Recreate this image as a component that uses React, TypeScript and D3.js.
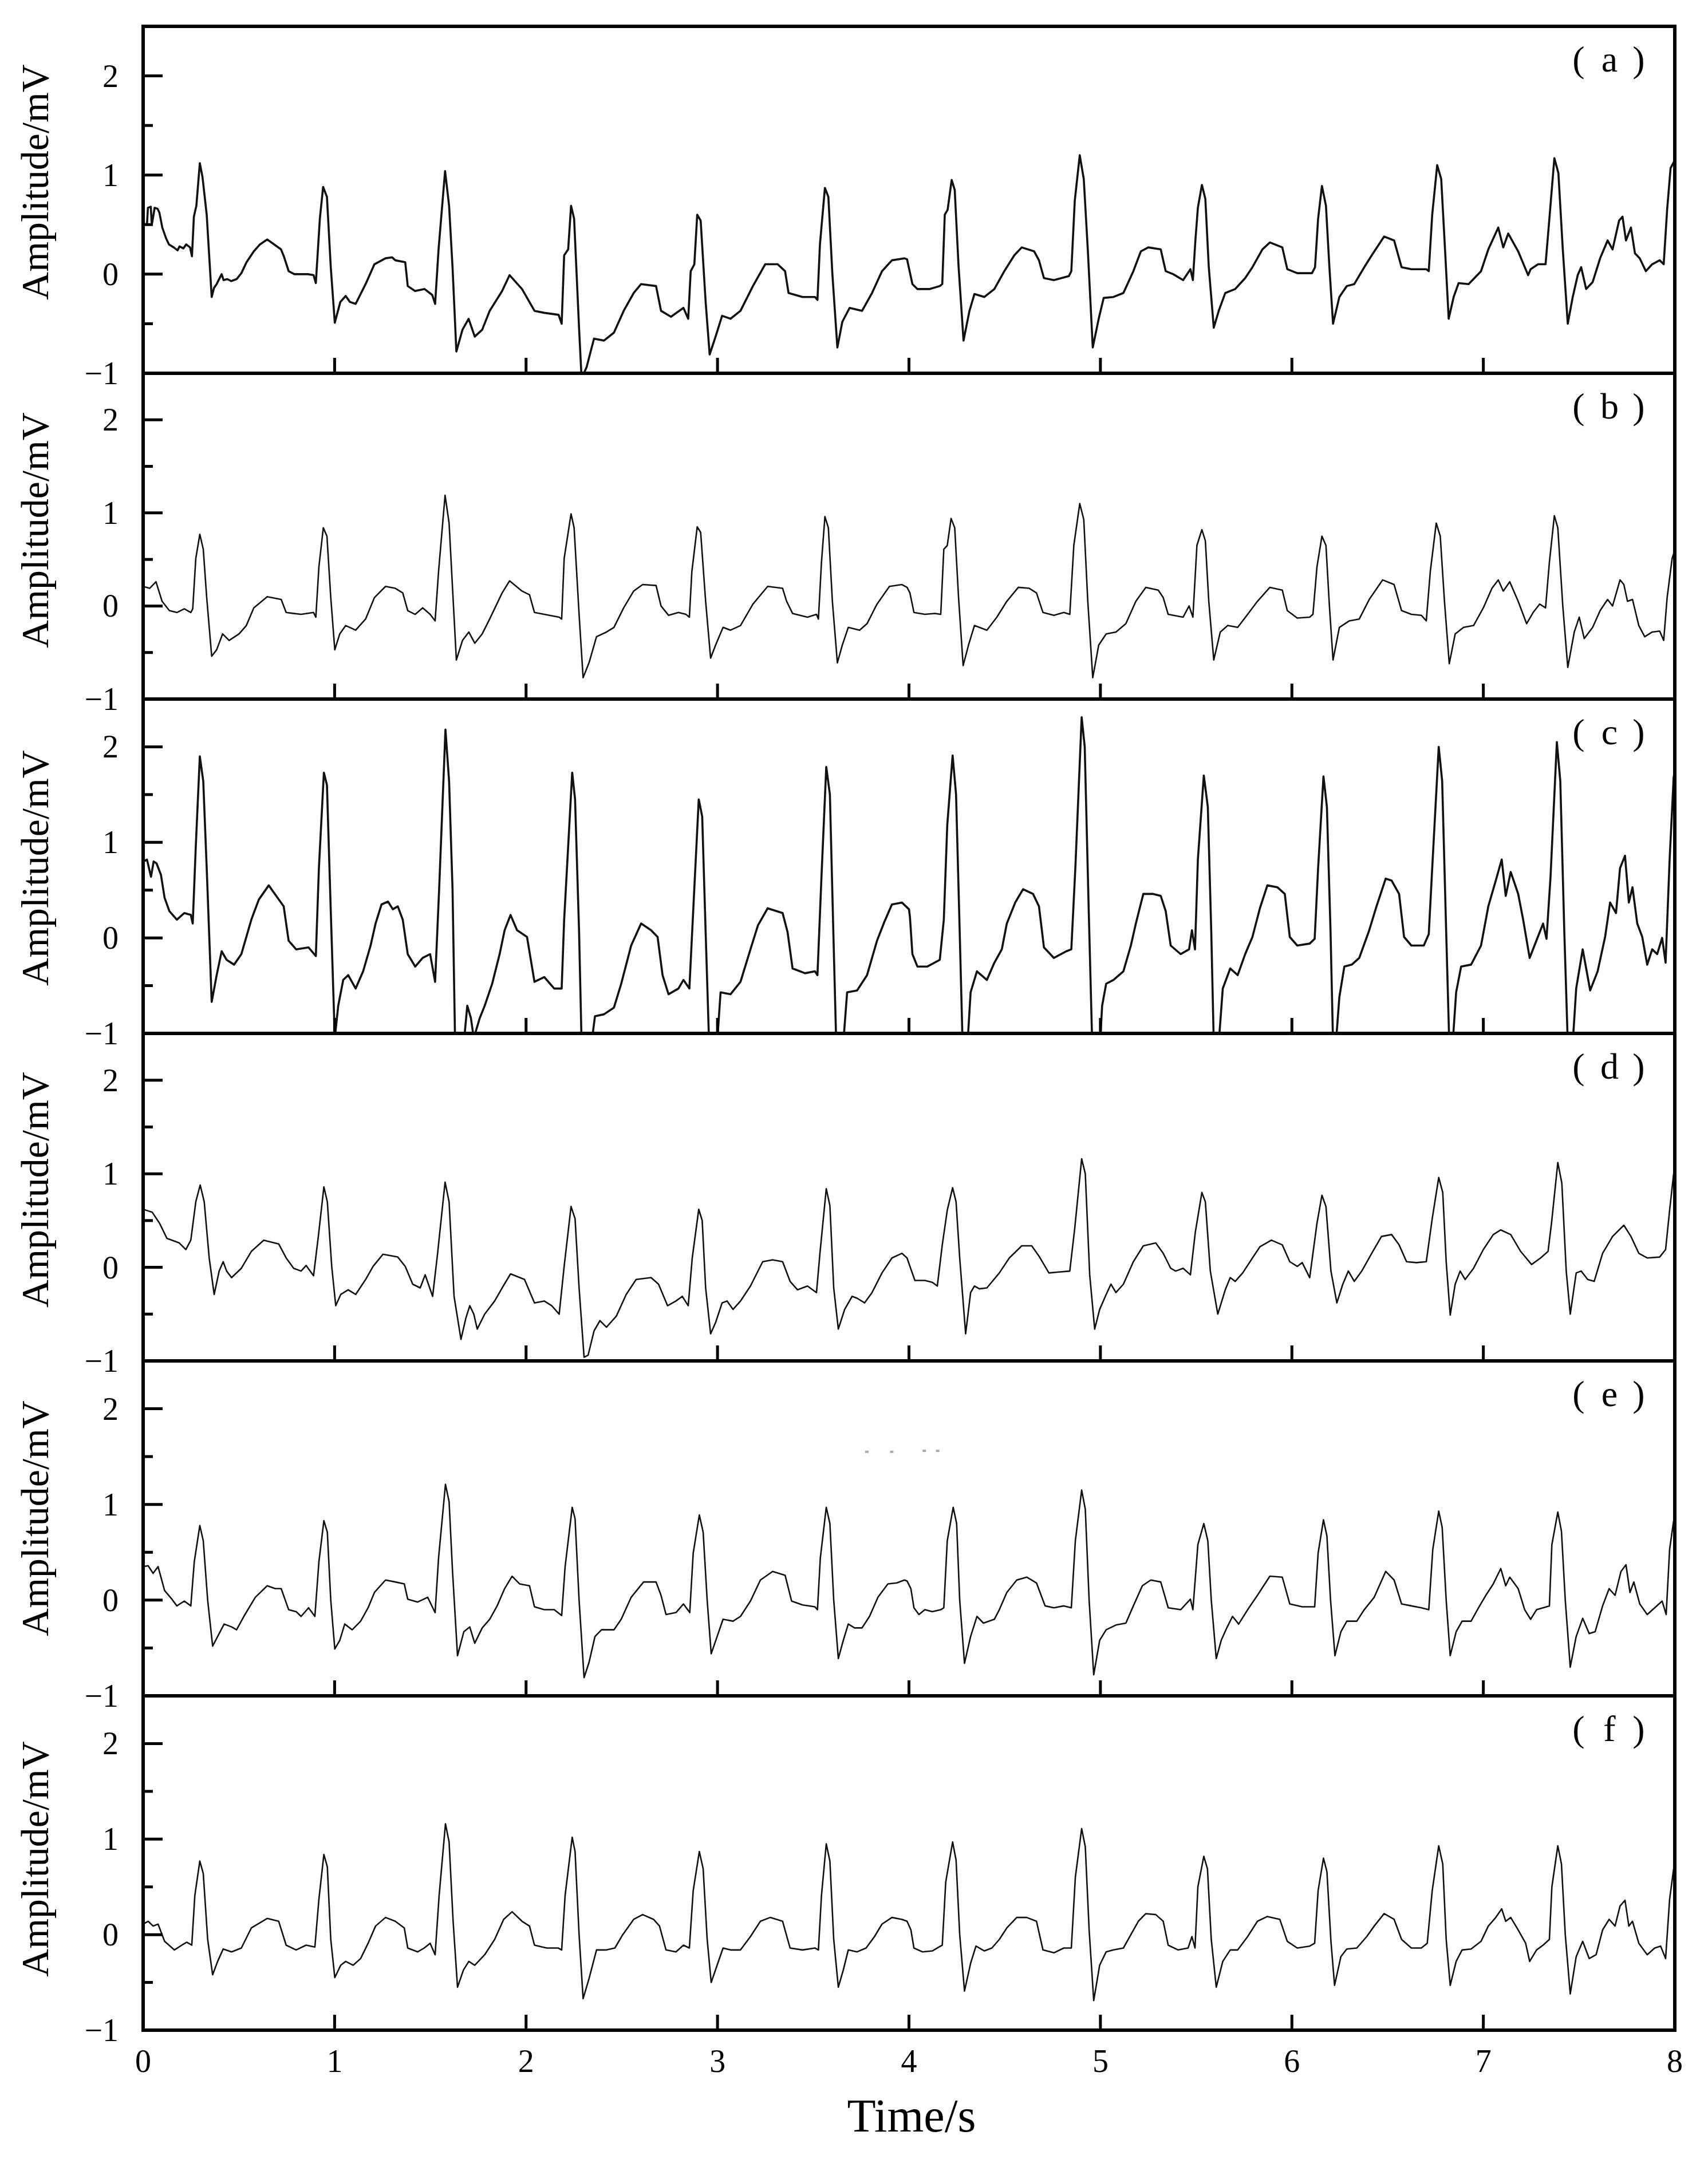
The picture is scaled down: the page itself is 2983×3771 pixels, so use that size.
import React from 'react';
import * as d3 from 'd3';

type Pt = [number, number];

// ---------- data (time in s, amplitude in mV) ----------
const panelIds = ['a', 'b', 'c', 'd', 'e', 'f'];
const xTickValues = [0, 1, 2, 3, 4, 5, 6, 7, 8];
const yMajorValues = [2, 1, 0, -1];
const yMinorValues = [1.5, 0.5, -0.5];

const ecgA: Pt[] = [
  [0,0.62],[0.005,0.5],[0.02,0.5],[0.025,0.67],[0.04,0.68],[0.045,0.5],[0.05,0.55],[0.06,0.67],[0.075,0.66],[0.085,0.62],[0.10,0.47],[0.12,0.36],[0.135,0.3],[0.16,0.27],[0.18,0.24],[0.19,0.28],[0.21,0.26],[0.225,0.3],[0.245,0.27],[0.255,0.18],[0.265,0.58],[0.278,0.69],[0.296,1.12],[0.31,0.98],[0.332,0.6],[0.358,-0.23],[0.37,-0.14],[0.384,-0.1],[0.41,0.0],[0.42,-0.06],[0.44,-0.05],[0.46,-0.07],[0.488,-0.05],[0.513,0.01],[0.54,0.12],[0.578,0.23],[0.61,0.3],[0.648,0.35],[0.67,0.32],[0.72,0.25],[0.735,0.18],[0.76,0.03],[0.79,0.0],[0.825,0.0],[0.86,0.0],[0.89,-0.01],[0.902,-0.09],[0.923,0.56],[0.94,0.88],[0.96,0.78],[0.98,0.07],[1.001,-0.49],[1.03,-0.28],[1.058,-0.22],[1.08,-0.28],[1.11,-0.3],[1.162,-0.1],[1.208,0.1],[1.266,0.16],[1.30,0.17],[1.317,0.14],[1.369,0.12],[1.382,-0.12],[1.42,-0.17],[1.47,-0.15],[1.51,-0.21],[1.525,-0.3],[1.543,0.25],[1.577,1.04],[1.598,0.69],[1.616,0.07],[1.636,-0.78],[1.668,-0.56],[1.70,-0.45],[1.732,-0.63],[1.771,-0.56],[1.81,-0.37],[1.875,-0.17],[1.914,-0.01],[1.979,-0.15],[2.044,-0.37],[2.095,-0.39],[2.17,-0.41],[2.186,-0.5],[2.199,0.19],[2.22,0.25],[2.235,0.69],[2.251,0.56],[2.277,-0.55],[2.29,-1.05],[2.316,-0.94],[2.355,-0.65],[2.407,-0.67],[2.459,-0.59],[2.51,-0.37],[2.562,-0.19],[2.601,-0.1],[2.679,-0.12],[2.705,-0.37],[2.757,-0.43],[2.822,-0.34],[2.847,-0.45],[2.86,0.03],[2.879,0.1],[2.894,0.6],[2.912,0.54],[2.938,-0.28],[2.959,-0.81],[2.99,-0.63],[3.024,-0.42],[3.068,-0.45],[3.12,-0.37],[3.185,-0.12],[3.249,0.1],[3.314,0.1],[3.353,0.03],[3.371,-0.19],[3.444,-0.23],[3.509,-0.23],[3.522,-0.26],[3.535,0.3],[3.561,0.87],[3.579,0.78],[3.60,0.0],[3.626,-0.74],[3.652,-0.48],[3.69,-0.34],[3.755,-0.37],[3.807,-0.19],[3.859,0.03],[3.911,0.14],[3.976,0.16],
  [3.99,0.15],[4.018,-0.1],[4.044,-0.15],[4.109,-0.15],[4.161,-0.12],[4.174,-0.1],[4.187,0.6],[4.202,0.65],[4.223,0.95],[4.239,0.85],[4.259,0.08],[4.285,-0.67],[4.316,-0.37],[4.342,-0.2],[4.394,-0.23],[4.446,-0.15],[4.498,0.03],[4.55,0.19],[4.589,0.27],[4.654,0.23],[4.679,0.14],[4.705,-0.04],[4.757,-0.06],[4.835,-0.02],[4.848,0.03],[4.866,0.74],[4.892,1.20],[4.913,0.96],[4.934,0.25],[4.96,-0.74],[4.991,-0.45],[5.017,-0.24],[5.068,-0.23],[5.12,-0.19],[5.172,0.03],[5.211,0.23],[5.25,0.27],[5.315,0.25],[5.341,0.03],[5.38,0.0],[5.432,-0.06],[5.47,0.05],[5.483,-0.06],[5.496,0.34],[5.509,0.67],[5.53,0.9],[5.548,0.76],[5.566,0.07],[5.592,-0.54],[5.618,-0.37],[5.652,-0.19],[5.704,-0.15],[5.756,-0.04],[5.794,0.07],[5.846,0.25],[5.885,0.32],[5.95,0.27],[5.976,0.05],[6.028,0.01],[6.105,0.01],[6.121,0.07],[6.137,0.56],[6.157,0.89],[6.178,0.69],[6.196,0.07],[6.215,-0.5],[6.248,-0.23],[6.287,-0.12],[6.326,-0.1],[6.378,0.07],[6.417,0.19],[6.482,0.38],[6.534,0.34],[6.573,0.07],[6.624,0.05],[6.702,0.05],[6.715,0.03],[6.733,0.6],[6.759,1.10],[6.78,0.96],[6.801,0.21],[6.819,-0.45],[6.845,-0.23],[6.871,-0.09],[6.923,-0.1],[6.988,0.03],[7.026,0.25],[7.078,0.47],[7.104,0.27],[7.13,0.41],[7.182,0.23],[7.234,-0.01],[7.247,0.05],[7.286,0.1],[7.325,0.1],[7.345,0.56],[7.371,1.17],[7.392,1.02],[7.415,0.25],[7.441,-0.5],[7.467,-0.23],[7.493,-0.01],[7.511,0.07],[7.537,-0.15],[7.571,-0.08],[7.61,0.16],[7.649,0.34],[7.675,0.25],[7.709,0.54],[7.727,0.58],[7.745,0.34],[7.771,0.47],[7.792,0.21],[7.817,0.16],[7.849,0.03],[7.882,0.10],[7.921,0.14],[7.942,0.10],[7.96,0.65],[7.978,1.07],[8.0,1.15],
];

const ecgB: Pt[] = [
  [0,0.21],[0.034,0.19],[0.067,0.26],[0.099,0.05],[0.137,-0.05],[0.176,-0.07],[0.215,-0.03],[0.249,-0.07],[0.259,-0.03],[0.275,0.51],[0.296,0.77],[0.314,0.61],[0.332,0.09],[0.358,-0.54],[0.384,-0.47],[0.415,-0.3],[0.449,-0.37],[0.501,-0.3],[0.539,-0.21],[0.578,-0.02],[0.648,0.1],[0.721,0.07],[0.747,-0.07],[0.825,-0.09],[0.89,-0.07],[0.902,-0.12],[0.918,0.42],[0.941,0.84],[0.96,0.75],[0.98,0.09],[1.001,-0.47],[1.027,-0.3],[1.058,-0.21],[1.11,-0.26],[1.162,-0.14],[1.208,0.09],[1.266,0.21],[1.317,0.19],[1.356,0.14],[1.382,-0.05],[1.421,-0.09],[1.460,-0.02],[1.499,-0.09],[1.525,-0.16],[1.543,0.37],[1.577,1.19],[1.598,0.89],[1.616,0.19],[1.636,-0.58],[1.668,-0.37],[1.701,-0.28],[1.732,-0.4],[1.771,-0.3],[1.81,-0.14],[1.875,0.14],[1.914,0.27],[1.979,0.16],[2.018,0.12],[2.044,-0.07],[2.095,-0.09],[2.173,-0.12],[2.186,-0.14],[2.199,0.51],[2.235,0.99],[2.251,0.84],[2.277,-0.09],[2.298,-0.77],[2.329,-0.61],[2.368,-0.33],[2.42,-0.28],[2.459,-0.23],[2.51,-0.02],[2.562,0.16],[2.609,0.23],[2.679,0.22],[2.705,0.0],[2.744,-0.1],[2.796,-0.07],[2.835,-0.09],[2.853,-0.12],[2.866,0.37],[2.894,0.85],[2.912,0.79],[2.938,0.05],[2.964,-0.56],[2.99,-0.42],[3.029,-0.23],[3.068,-0.26],[3.12,-0.21],[3.185,0.02],[3.262,0.21],[3.34,0.19],[3.361,0.05],[3.392,-0.08],[3.47,-0.12],[3.517,-0.09],[3.527,-0.14],[3.543,0.47],[3.561,0.96],[3.579,0.84],[3.60,0.05],[3.626,-0.61],[3.652,-0.42],[3.683,-0.23],[3.742,-0.26],[3.781,-0.19],[3.833,0.02],[3.898,0.21],[3.963,0.23],
  [3.99,0.2],[4.005,0.14],[4.026,-0.07],[4.083,-0.09],[4.135,-0.08],[4.166,-0.09],[4.182,0.61],[4.2,0.65],[4.22,0.94],[4.239,0.84],[4.259,0.09],[4.283,-0.64],[4.311,-0.42],[4.342,-0.21],[4.407,-0.26],[4.459,-0.12],[4.511,0.05],[4.571,0.2],[4.628,0.19],[4.666,0.14],[4.70,-0.07],[4.757,-0.1],[4.809,-0.07],[4.84,-0.09],[4.861,0.65],[4.892,1.10],[4.913,0.93],[4.934,0.05],[4.96,-0.77],[4.991,-0.42],[5.03,-0.3],[5.081,-0.28],[5.133,-0.19],[5.185,0.05],[5.237,0.2],[5.302,0.17],[5.328,0.09],[5.354,-0.09],[5.432,-0.12],[5.463,0.0],[5.483,-0.12],[5.504,0.65],[5.53,0.82],[5.548,0.7],[5.566,0.05],[5.592,-0.58],[5.626,-0.28],[5.665,-0.21],[5.717,-0.23],[5.769,-0.09],[5.82,0.05],[5.885,0.2],[5.95,0.17],[5.976,-0.05],[6.028,-0.13],[6.093,-0.12],[6.11,-0.09],[6.131,0.42],[6.157,0.75],[6.178,0.65],[6.196,0.0],[6.215,-0.58],[6.248,-0.23],[6.3,-0.16],[6.352,-0.14],[6.404,0.07],[6.474,0.28],[6.534,0.23],[6.573,-0.05],[6.624,-0.09],[6.676,-0.1],[6.702,-0.16],[6.723,0.37],[6.754,0.89],[6.775,0.75],[6.797,0.05],[6.822,-0.62],[6.853,-0.3],[6.897,-0.23],[6.949,-0.21],[7.0,-0.02],[7.045,0.19],[7.078,0.28],[7.104,0.16],[7.138,0.26],[7.182,0.05],[7.226,-0.19],[7.26,-0.07],[7.294,0.02],[7.325,-0.02],[7.345,0.47],[7.371,0.97],[7.389,0.84],[7.415,0.0],[7.441,-0.66],[7.475,-0.28],[7.501,-0.12],[7.527,-0.35],[7.571,-0.23],[7.61,-0.05],[7.649,0.07],[7.675,0.0],[7.714,0.28],[7.734,0.23],[7.753,0.05],[7.779,0.07],[7.812,-0.21],[7.843,-0.33],[7.882,-0.28],[7.921,-0.27],[7.942,-0.37],[7.96,0.09],[7.986,0.51],[8.0,0.6],
];

const ecgC: Pt[] = [
  [0,0.8],[0.02,0.82],[0.041,0.64],[0.055,0.8],[0.07,0.78],[0.093,0.66],[0.112,0.42],[0.137,0.28],[0.176,0.19],[0.215,0.26],[0.249,0.24],[0.259,0.15],[0.275,0.96],[0.296,1.90],[0.314,1.64],[0.332,0.73],[0.358,-0.67],[0.384,-0.39],[0.41,-0.14],[0.436,-0.23],[0.475,-0.28],[0.513,-0.17],[0.565,0.19],[0.604,0.4],[0.656,0.55],[0.695,0.44],[0.734,0.33],[0.76,-0.03],[0.799,-0.12],[0.864,-0.1],[0.902,-0.19],[0.918,0.73],[0.944,1.73],[0.96,1.6],[0.98,0.28],[1.001,-1.05],[1.019,-0.71],[1.045,-0.44],[1.071,-0.39],[1.11,-0.53],[1.149,-0.35],[1.188,-0.08],[1.214,0.15],[1.245,0.35],[1.279,0.38],[1.304,0.3],[1.33,0.33],[1.356,0.19],[1.382,-0.17],[1.421,-0.3],[1.46,-0.21],[1.499,-0.17],[1.525,-0.46],[1.546,0.51],[1.579,2.18],[1.598,1.64],[1.616,0.51],[1.629,-1.05],[1.675,-1.1],[1.693,-0.71],[1.712,-0.84],[1.727,-1.05],[1.758,-0.84],[1.784,-0.71],[1.823,-0.48],[1.862,-0.17],[1.888,0.08],[1.919,0.24],[1.953,0.08],[2.005,0.01],[2.044,-0.46],[2.095,-0.41],[2.147,-0.53],[2.186,-0.53],[2.199,0.19],[2.241,1.73],[2.256,1.45],[2.277,0.06],[2.29,-1.1],[2.342,-1.1],[2.36,-0.82],[2.407,-0.8],[2.459,-0.73],[2.497,-0.48],[2.549,-0.08],[2.601,0.15],[2.653,0.08],[2.687,0.01],[2.713,-0.39],[2.744,-0.59],[2.796,-0.53],[2.822,-0.44],[2.853,-0.53],[2.873,0.28],[2.902,1.45],[2.92,1.27],[2.938,0.06],[2.956,-1.1],[2.998,-1.1],[3.016,-0.57],[3.068,-0.59],[3.12,-0.46],[3.172,-0.12],[3.211,0.13],[3.262,0.31],[3.34,0.26],[3.366,0.06],[3.392,-0.32],[3.457,-0.37],[3.509,-0.35],[3.522,-0.39],[3.543,0.64],[3.568,1.79],[3.587,1.5],[3.605,0.06],[3.62,-1.1],[3.657,-1.1],[3.677,-0.57],[3.729,-0.55],[3.781,-0.39],[3.833,-0.03],[3.872,0.17],[3.911,0.35],[3.963,0.37],
  [4.0,0.3],[4.005,0.22],[4.018,-0.17],[4.044,-0.3],[4.096,-0.3],[4.161,-0.23],[4.182,0.19],[4.2,1.18],[4.228,1.91],[4.246,1.5],[4.265,0.06],[4.28,-1.1],[4.306,-1.1],[4.322,-0.57],[4.355,-0.35],[4.407,-0.44],[4.446,-0.26],[4.485,-0.12],[4.511,0.15],[4.555,0.37],[4.596,0.51],[4.648,0.46],[4.679,0.33],[4.705,-0.1],[4.757,-0.21],[4.822,-0.14],[4.848,-0.12],[4.869,0.73],[4.902,2.31],[4.918,2.0],[4.939,0.28],[4.957,-1.1],[4.998,-1.1],[5.009,-0.71],[5.03,-0.48],[5.068,-0.44],[5.12,-0.35],[5.159,-0.08],[5.185,0.15],[5.224,0.46],[5.276,0.46],[5.315,0.44],[5.341,0.28],[5.367,-0.08],[5.419,-0.17],[5.463,-0.12],[5.478,0.08],[5.494,-0.12],[5.509,0.82],[5.54,1.70],[5.561,1.37],[5.579,0.06],[5.592,-1.1],[5.618,-1.1],[5.639,-0.53],[5.678,-0.32],[5.717,-0.39],[5.756,-0.17],[5.794,0.01],[5.833,0.31],[5.872,0.55],[5.924,0.53],[5.963,0.46],[5.989,0.01],[6.028,-0.08],[6.093,-0.06],[6.119,-0.01],[6.137,0.73],[6.165,1.69],[6.183,1.37],[6.202,0.06],[6.215,-1.1],[6.23,-1.1],[6.248,-0.62],[6.274,-0.3],[6.313,-0.28],[6.352,-0.21],[6.404,0.08],[6.442,0.33],[6.49,0.62],[6.521,0.6],[6.56,0.46],[6.586,0.01],[6.624,-0.08],[6.689,-0.08],[6.715,0.04],[6.733,0.73],[6.767,2.0],[6.785,1.64],[6.806,0.06],[6.822,-1.1],[6.84,-1.1],[6.858,-0.57],[6.884,-0.3],[6.936,-0.28],[6.988,-0.08],[7.026,0.33],[7.065,0.6],[7.096,0.82],[7.117,0.44],[7.143,0.69],[7.182,0.46],[7.208,0.19],[7.242,-0.21],[7.273,-0.05],[7.312,0.15],[7.33,-0.01],[7.351,0.64],[7.384,2.05],[7.402,1.64],[7.423,0.06],[7.441,-1.1],[7.467,-1.1],[7.485,-0.53],[7.519,-0.12],[7.558,-0.55],[7.597,-0.35],[7.636,0.01],[7.662,0.37],[7.693,0.26],[7.714,0.73],[7.74,0.86],[7.76,0.37],[7.779,0.53],[7.804,0.15],[7.83,0.01],[7.856,-0.28],[7.882,-0.12],[7.908,-0.17],[7.934,0.0],[7.952,-0.26],[7.973,0.82],[7.994,1.68],[8.0,1.75],
];

const ecgD: Pt[] = [
  [0,0.62],[0.047,0.59],[0.086,0.47],[0.124,0.31],[0.163,0.28],[0.189,0.26],[0.223,0.19],[0.249,0.29],[0.275,0.7],[0.298,0.88],[0.319,0.7],[0.345,0.1],[0.371,-0.29],[0.397,-0.04],[0.418,0.06],[0.436,-0.04],[0.462,-0.11],[0.513,-0.01],[0.565,0.17],[0.63,0.29],[0.708,0.25],[0.747,0.1],[0.786,-0.01],[0.825,-0.04],[0.851,0.02],[0.89,-0.09],[0.915,0.33],[0.944,0.86],[0.962,0.7],[0.985,0.01],[1.006,-0.41],[1.032,-0.29],[1.071,-0.24],[1.11,-0.29],[1.162,-0.13],[1.201,0.01],[1.253,0.14],[1.33,0.11],[1.369,0.01],[1.408,-0.18],[1.447,-0.22],[1.473,-0.08],[1.512,-0.31],[1.538,0.15],[1.577,0.91],[1.598,0.7],[1.624,-0.31],[1.66,-0.77],[1.686,-0.54],[1.706,-0.41],[1.727,-0.5],[1.745,-0.66],[1.784,-0.5],[1.836,-0.36],[1.875,-0.22],[1.919,-0.07],[1.992,-0.13],[2.044,-0.38],[2.095,-0.36],[2.134,-0.41],[2.173,-0.5],[2.199,0.01],[2.235,0.65],[2.256,0.52],[2.277,-0.22],[2.303,-0.96],[2.324,-0.94],[2.355,-0.68],[2.386,-0.57],[2.42,-0.64],[2.472,-0.52],[2.523,-0.29],[2.575,-0.13],[2.653,-0.11],[2.692,-0.18],[2.739,-0.41],[2.783,-0.36],[2.816,-0.31],[2.847,-0.41],[2.868,0.1],[2.902,0.62],[2.92,0.5],[2.938,-0.22],[2.964,-0.71],[2.99,-0.59],[3.024,-0.38],[3.05,-0.36],[3.081,-0.45],[3.12,-0.36],[3.172,-0.2],[3.236,0.06],[3.288,0.08],[3.34,0.06],[3.379,-0.15],[3.418,-0.24],[3.47,-0.2],[3.517,-0.27],[3.535,0.15],[3.568,0.84],[3.587,0.66],[3.607,-0.22],[3.631,-0.66],[3.664,-0.45],[3.703,-0.31],[3.729,-0.33],[3.768,-0.38],[3.807,-0.27],[3.859,-0.06],[3.911,0.1],[3.963,0.15],
  [3.99,0.1],[4.005,0.01],[4.031,-0.14],[4.083,-0.14],[4.122,-0.16],[4.148,-0.2],[4.174,0.24],[4.2,0.61],[4.228,0.85],[4.246,0.7],[4.265,0.1],[4.296,-0.71],[4.322,-0.27],[4.342,-0.2],[4.368,-0.23],[4.407,-0.22],[4.472,-0.06],[4.524,0.1],[4.589,0.23],[4.641,0.23],[4.679,0.12],[4.731,-0.06],[4.783,-0.05],[4.84,-0.04],[4.866,0.42],[4.902,1.16],[4.921,1.0],[4.944,-0.08],[4.97,-0.66],[4.996,-0.45],[5.03,-0.29],[5.055,-0.18],[5.081,-0.27],[5.12,-0.18],[5.172,0.06],[5.224,0.23],[5.289,0.26],[5.328,0.15],[5.367,-0.01],[5.393,-0.04],[5.432,-0.01],[5.47,-0.08],[5.496,0.38],[5.53,0.8],[5.548,0.7],[5.574,-0.04],[5.613,-0.5],[5.652,-0.24],[5.678,-0.11],[5.704,-0.15],[5.743,-0.06],[5.794,0.1],[5.833,0.22],[5.893,0.29],[5.95,0.24],[5.989,0.06],[6.028,0.01],[6.054,0.05],[6.093,-0.11],[6.131,0.47],[6.157,0.77],[6.178,0.65],[6.204,-0.04],[6.235,-0.38],[6.266,-0.18],[6.295,-0.04],[6.326,-0.15],[6.365,-0.04],[6.417,0.15],[6.468,0.33],[6.521,0.35],[6.56,0.24],[6.599,0.06],[6.65,0.05],[6.702,0.06],[6.733,0.52],[6.767,0.96],[6.788,0.8],[6.806,0.06],[6.827,-0.51],[6.853,-0.18],[6.879,-0.04],[6.905,-0.13],[6.949,-0.01],[7.0,0.19],[7.052,0.35],[7.091,0.4],[7.143,0.35],[7.195,0.17],[7.252,0.03],[7.299,0.1],[7.338,0.17],[7.356,0.47],[7.389,1.12],[7.41,0.9],[7.433,-0.04],[7.454,-0.5],[7.485,-0.06],[7.511,-0.04],[7.545,-0.13],[7.579,-0.15],[7.623,0.15],[7.675,0.33],[7.734,0.45],[7.771,0.33],[7.812,0.15],[7.856,0.1],[7.921,0.11],[7.952,0.19],[7.973,0.61],[7.994,1.0],[8.0,1.05],
];

const ecgE: Pt[] = [
  [0,0.35],[0.026,0.36],[0.052,0.28],[0.078,0.35],[0.112,0.1],[0.15,0.01],[0.176,-0.06],[0.215,-0.01],[0.249,-0.06],[0.267,0.4],[0.296,0.78],[0.314,0.62],[0.337,0.0],[0.363,-0.48],[0.389,-0.38],[0.423,-0.25],[0.462,-0.28],[0.488,-0.31],[0.526,-0.17],[0.586,0.03],[0.648,0.15],[0.69,0.12],[0.721,0.12],[0.76,-0.1],[0.799,-0.12],[0.825,-0.17],[0.864,-0.08],[0.897,-0.17],[0.918,0.4],[0.944,0.83],[0.962,0.71],[0.98,0.0],[1.001,-0.51],[1.027,-0.42],[1.053,-0.25],[1.092,-0.31],[1.136,-0.22],[1.175,-0.08],[1.208,0.08],[1.266,0.21],[1.317,0.19],[1.364,0.17],[1.382,0.01],[1.434,-0.02],[1.486,0.03],[1.525,-0.13],[1.543,0.44],[1.579,1.21],[1.598,1.03],[1.616,0.3],[1.642,-0.58],[1.675,-0.33],[1.706,-0.28],[1.732,-0.45],[1.771,-0.29],[1.81,-0.2],[1.849,-0.06],[1.888,0.12],[1.927,0.25],[1.966,0.17],[2.018,0.15],[2.044,-0.07],[2.095,-0.1],[2.147,-0.1],[2.186,-0.16],[2.204,0.35],[2.241,0.97],[2.256,0.85],[2.277,0.0],[2.303,-0.81],[2.329,-0.65],[2.36,-0.38],[2.394,-0.31],[2.459,-0.31],[2.497,-0.2],[2.549,0.03],[2.614,0.19],[2.679,0.19],[2.705,0.05],[2.731,-0.15],[2.783,-0.13],[2.822,-0.04],[2.855,-0.13],[2.873,0.49],[2.905,0.89],[2.925,0.71],[2.946,0.0],[2.967,-0.56],[2.998,-0.38],[3.029,-0.2],[3.081,-0.22],[3.12,-0.17],[3.172,-0.01],[3.224,0.21],[3.288,0.3],[3.353,0.26],[3.387,-0.01],[3.444,-0.05],[3.509,-0.07],[3.522,-0.1],[3.537,0.44],[3.568,0.97],[3.587,0.8],[3.607,0.0],[3.631,-0.61],[3.657,-0.42],[3.683,-0.25],[3.716,-0.29],[3.755,-0.29],[3.794,-0.17],[3.838,0.03],[3.89,0.17],[3.937,0.18],[3.976,0.21],
  [3.99,0.2],[4.01,0.12],[4.026,-0.08],[4.052,-0.15],[4.083,-0.1],[4.122,-0.12],[4.166,-0.1],[4.182,-0.08],[4.2,0.62],[4.231,0.97],[4.249,0.8],[4.265,0.0],[4.29,-0.66],[4.322,-0.38],[4.355,-0.17],[4.389,-0.24],[4.446,-0.2],[4.472,-0.1],[4.511,0.08],[4.563,0.21],[4.615,0.24],[4.666,0.18],[4.711,-0.06],[4.757,-0.08],[4.809,-0.06],[4.848,-0.08],[4.869,0.62],[4.902,1.15],[4.921,0.95],[4.941,0.0],[4.965,-0.78],[4.996,-0.42],[5.03,-0.31],[5.081,-0.26],[5.133,-0.24],[5.172,-0.06],[5.219,0.15],[5.263,0.21],[5.315,0.19],[5.354,-0.08],[5.419,-0.1],[5.47,0.01],[5.483,-0.1],[5.509,0.58],[5.54,0.8],[5.561,0.62],[5.579,0.0],[5.605,-0.61],[5.631,-0.42],[5.66,-0.29],[5.69,-0.17],[5.722,-0.25],[5.769,-0.1],[5.82,0.05],[5.885,0.25],[5.95,0.24],[5.989,-0.04],[6.054,-0.07],[6.119,-0.07],[6.137,0.49],[6.165,0.84],[6.183,0.67],[6.202,0.0],[6.225,-0.58],[6.256,-0.33],[6.287,-0.22],[6.339,-0.22],[6.378,-0.1],[6.43,0.03],[6.49,0.3],[6.534,0.21],[6.573,-0.04],[6.624,-0.06],[6.676,-0.08],[6.715,-0.1],[6.736,0.53],[6.767,0.93],[6.785,0.76],[6.806,0.0],[6.827,-0.58],[6.858,-0.33],[6.889,-0.22],[6.936,-0.22],[6.975,-0.08],[7.013,0.05],[7.052,0.17],[7.091,0.33],[7.117,0.15],[7.138,0.24],[7.182,0.12],[7.216,-0.1],[7.247,-0.2],[7.278,-0.1],[7.312,-0.08],[7.345,-0.06],[7.358,0.58],[7.389,0.92],[7.408,0.72],[7.428,0.0],[7.454,-0.7],[7.485,-0.38],[7.519,-0.19],[7.553,-0.35],[7.584,-0.33],[7.623,-0.06],[7.657,0.12],[7.688,0.05],[7.719,0.3],[7.745,0.37],[7.766,0.08],[7.786,0.19],[7.817,-0.04],[7.856,-0.15],[7.895,-0.08],[7.934,-0.01],[7.955,-0.15],[7.973,0.53],[7.994,0.83],[8.0,0.85],
];

const ecgF: Pt[] = [
  [0,0.11],[0.026,0.14],[0.052,0.09],[0.078,0.11],[0.112,-0.07],[0.163,-0.16],[0.202,-0.11],[0.228,-0.08],[0.254,-0.11],[0.27,0.41],[0.296,0.77],[0.314,0.64],[0.337,-0.05],[0.363,-0.42],[0.389,-0.28],[0.418,-0.15],[0.462,-0.18],[0.513,-0.14],[0.565,0.07],[0.648,0.17],[0.708,0.14],[0.747,-0.11],[0.799,-0.16],[0.851,-0.11],[0.897,-0.13],[0.918,0.37],[0.944,0.84],[0.962,0.71],[0.98,-0.05],[1.001,-0.45],[1.032,-0.32],[1.058,-0.28],[1.097,-0.32],[1.136,-0.25],[1.175,-0.09],[1.214,0.09],[1.266,0.18],[1.317,0.14],[1.364,0.07],[1.382,-0.14],[1.434,-0.18],[1.468,-0.14],[1.499,-0.09],[1.525,-0.21],[1.546,0.41],[1.579,1.16],[1.598,0.97],[1.619,0.14],[1.642,-0.55],[1.673,-0.37],[1.701,-0.28],[1.732,-0.32],[1.784,-0.21],[1.836,-0.05],[1.883,0.16],[1.927,0.24],[1.979,0.14],[2.018,0.09],[2.044,-0.11],[2.108,-0.14],[2.168,-0.14],[2.186,-0.16],[2.204,0.41],[2.241,1.02],[2.256,0.87],[2.277,0.0],[2.298,-0.67],[2.329,-0.46],[2.368,-0.16],[2.42,-0.16],[2.464,-0.14],[2.505,0.0],[2.562,0.16],[2.609,0.21],[2.666,0.16],[2.697,0.09],[2.731,-0.16],[2.783,-0.18],[2.822,-0.11],[2.853,-0.14],[2.873,0.46],[2.905,0.87],[2.925,0.69],[2.946,-0.05],[2.967,-0.5],[2.998,-0.32],[3.029,-0.14],[3.068,-0.16],[3.12,-0.16],[3.172,-0.02],[3.224,0.14],[3.275,0.18],[3.34,0.14],[3.379,-0.14],[3.444,-0.16],[3.509,-0.14],[3.527,-0.16],[3.543,0.41],[3.568,0.95],[3.587,0.77],[3.607,-0.05],[3.631,-0.55],[3.657,-0.37],[3.683,-0.16],[3.729,-0.18],[3.776,-0.14],[3.82,-0.02],[3.859,0.11],[3.911,0.18],[3.963,0.16],[3.99,0.14],
  [4.01,0.05],[4.026,-0.14],[4.07,-0.18],[4.122,-0.17],[4.156,-0.13],[4.174,-0.11],[4.192,0.55],[4.228,0.97],[4.246,0.78],[4.265,0.0],[4.29,-0.59],[4.322,-0.3],[4.35,-0.12],[4.394,-0.17],[4.433,-0.14],[4.472,-0.05],[4.511,0.07],[4.563,0.18],[4.615,0.18],[4.666,0.14],[4.70,-0.16],[4.757,-0.19],[4.809,-0.14],[4.848,-0.14],[4.869,0.6],[4.902,1.11],[4.921,0.92],[4.941,0.05],[4.965,-0.69],[4.996,-0.32],[5.03,-0.18],[5.068,-0.16],[5.12,-0.14],[5.159,0.0],[5.198,0.14],[5.237,0.22],[5.289,0.21],[5.328,0.14],[5.354,-0.11],[5.406,-0.16],[5.458,-0.14],[5.478,-0.02],[5.494,-0.14],[5.509,0.5],[5.54,0.82],[5.559,0.69],[5.579,-0.05],[5.605,-0.55],[5.639,-0.28],[5.678,-0.16],[5.717,-0.16],[5.769,-0.02],[5.82,0.14],[5.872,0.19],[5.937,0.16],[5.976,-0.07],[6.028,-0.14],[6.093,-0.12],[6.119,-0.09],[6.137,0.46],[6.165,0.8],[6.183,0.66],[6.204,-0.07],[6.223,-0.53],[6.256,-0.23],[6.287,-0.15],[6.339,-0.14],[6.391,-0.02],[6.43,0.09],[6.482,0.22],[6.534,0.16],[6.573,-0.05],[6.624,-0.14],[6.676,-0.14],[6.707,-0.09],[6.733,0.46],[6.767,0.93],[6.788,0.74],[6.806,-0.05],[6.827,-0.53],[6.858,-0.28],[6.889,-0.16],[6.936,-0.15],[6.988,-0.07],[7.026,0.09],[7.065,0.18],[7.096,0.27],[7.117,0.14],[7.143,0.18],[7.182,0.05],[7.221,-0.09],[7.242,-0.28],[7.278,-0.16],[7.312,-0.11],[7.345,-0.05],[7.358,0.5],[7.389,0.93],[7.408,0.74],[7.428,0.0],[7.454,-0.62],[7.485,-0.23],[7.519,-0.07],[7.553,-0.25],[7.589,-0.21],[7.623,0.05],[7.657,0.16],[7.688,0.09],[7.714,0.3],[7.74,0.36],[7.76,0.09],[7.779,0.14],[7.812,-0.09],[7.856,-0.21],[7.895,-0.14],[7.926,-0.12],[7.952,-0.25],[7.973,0.37],[7.994,0.69],[8.0,0.72],
];

const seriesList: Pt[][] = [ecgA, ecgB, ecgC, ecgD, ecgE, ecgF];

// faint scan specks seen in panel (e): [time s, amplitude mV]
const specksE: Pt[] = [[3.78, 1.55], [3.91, 1.55], [4.08, 1.56], [4.15, 1.56]];

// ---------- layout ----------
const W = 2983;
const H = 3771;
const X_LEFT = 250;
const X_RIGHT = 2925;
const panelEdges = [46, 652, 1221, 1805, 2377, 2962, 3546];
const yLabelCenters = [318, 926, 1516, 2078, 2652, 3247];
const traceWidths = [3.6, 2.6, 3.6, 2.6, 2.6, 2.6];
const FONT = "'Liberation Serif', 'Times New Roman', serif";

export default function App() {
  const x = d3.scaleLinear().domain([0, 8]).range([X_LEFT, X_RIGHT]);
  const lastBottom = panelEdges[panelEdges.length - 1];

  return (
    <svg
      width={W}
      height={H}
      viewBox={`0 0 ${W} ${H}`}
      style={{ position: 'absolute', left: 0, top: 0, display: 'block', background: '#fff' }}
      fontFamily={FONT}
    >
      <rect x={0} y={0} width={W} height={H} fill="#fff" />
      <defs>
        {panelIds.map((id, i) => (
          <clipPath id={`clip-${id}`} key={id}>
            <rect x={X_LEFT} y={panelEdges[i]} width={X_RIGHT - X_LEFT} height={panelEdges[i + 1] - panelEdges[i]} />
          </clipPath>
        ))}
      </defs>

      {panelIds.map((id, i) => {
        const top = panelEdges[i];
        const bottom = panelEdges[i + 1];
        const y = d3.scaleLinear().domain([-1, 2.5]).range([bottom, top]);
        const line = d3.line<Pt>().x((d) => x(d[0])).y((d) => y(d[1]));
        return (
          <g key={id}>
            <path
              d={line(seriesList[i]) || ''}
              fill="none"
              stroke="#111"
              strokeWidth={traceWidths[i]}
              strokeLinejoin="round"
              strokeLinecap="round"
              clipPath={`url(#clip-${id})`}
            />
            {id === 'e' &&
              specksE.map((p, k) => (
                <rect key={`sp${k}`} x={x(p[0]) - 3} y={y(p[1]) - 2} width={6} height={4} fill="#aaa" />
              ))}
            {/* frame */}
            <rect
              x={X_LEFT}
              y={top}
              width={X_RIGHT - X_LEFT}
              height={bottom - top}
              fill="none"
              stroke="#000"
              strokeWidth={6}
            />
            {/* x ticks (inward) */}
            {xTickValues.slice(1, -1).map((t) => (
              <line key={`xt${t}`} x1={x(t)} x2={x(t)} y1={bottom} y2={bottom - 27} stroke="#000" strokeWidth={5} />
            ))}
            {/* y major ticks */}
            {yMajorValues.slice(0, 3).map((v) => (
              <line key={`ym${v}`} x1={X_LEFT} x2={X_LEFT + 34} y1={y(v)} y2={y(v)} stroke="#000" strokeWidth={5} />
            ))}
            {yMinorValues.map((v) => (
              <line key={`yn${v}`} x1={X_LEFT} x2={X_LEFT + 17} y1={y(v)} y2={y(v)} stroke="#000" strokeWidth={5} />
            ))}
            {/* y tick labels */}
            {yMajorValues.map((v) => (
              <text
                key={`yl${v}`}
                x={207}
                y={y(v) + 19}
                textAnchor="end"
                fontSize={56}
                fill="#000"
              >
                {v < 0 ? `\u2212${Math.abs(v)}` : `${v}`}
              </text>
            ))}
            {/* y axis label */}
            <text
              transform={`translate(84, ${yLabelCenters[i]}) rotate(-90)`}
              textAnchor="middle"
              fontSize={68}
              fill="#000"
            >
              Amplitude/mV
            </text>
            {/* panel tag */}
            <g fontSize={64} fill="#000" textAnchor="middle">
              <text x={2757} y={top + 79}>(</text>
              <text x={2811} y={top + 79}>{id}</text>
              <text x={2862} y={top + 79}>)</text>
            </g>
          </g>
        );
      })}

      {/* x tick labels */}
      {xTickValues.map((t) => (
        <text key={`xl${t}`} x={x(t)} y={lastBottom + 73} textAnchor="middle" fontSize={56} fill="#000">
          {t}
        </text>
      ))}
      <text x={1592} y={3723} textAnchor="middle" fontSize={82} fill="#000">
        Time/s
      </text>
    </svg>
  );
}
